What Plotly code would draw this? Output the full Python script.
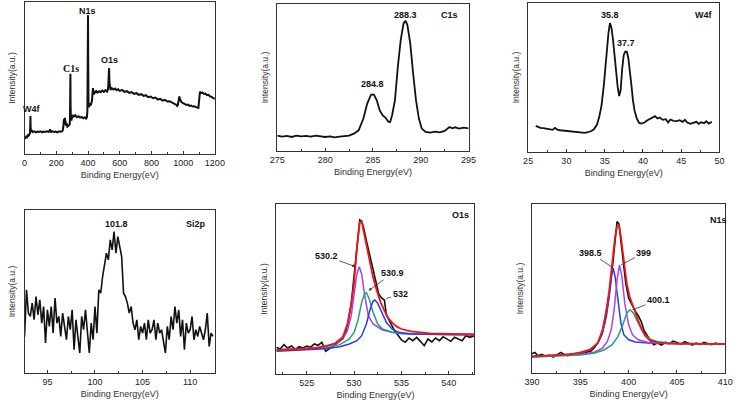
import plotly.graph_objects as go

# ---------------- data ----------------
# Survey
survey_x = [0,5,10,15,20,25,30,34,36,37,38,40,45,50,60,70,80,90,100,110,120,130,140,150,155,160,163,167,175,185,195,205,215,225,235,240,244,247,250,252,254,256,258,261,265,270,275,280,284,286,288,289,290,292,295,300,305,310,320,330,340,350,360,370,380,388,393,396,398,400,401,403,406,410,415,420,425,428,431,434,437,440,445,450,460,470,480,490,500,510,520,525,528,531,533,535,538,542,550,560,570,580,590,600,615,630,645,660,675,690,705,720,735,750,765,780,795,810,825,840,855,870,885,900,915,930,945,955,962,966,970,973,976,980,985,990,1000,1010,1020,1030,1040,1050,1060,1070,1080,1090,1096,1099,1102,1106,1110,1120,1130,1140,1150,1160,1170,1180,1190,1200]
survey_y = [45,48,52,50,56,55,60,62,90,114,80,68,70,66,68,65,67,66,68,65,67,66,68,66,67,74,70,66,68,66,67,65,67,66,67,70,80,100,105,88,108,92,100,85,92,82,84,86,88,100,200,240,150,108,100,112,115,112,116,110,113,109,111,107,110,106,110,130,220,415,300,150,140,152,145,150,160,180,197,185,178,188,182,190,184,188,185,190,186,191,187,192,205,240,257,215,196,192,197,193,196,191,194,189,192,186,188,183,185,180,182,177,179,174,176,170,172,167,169,163,165,160,162,157,158,153,150,148,144,146,158,168,172,164,158,155,152,150,147,148,144,145,142,143,140,139,138,160,180,187,182,184,180,181,176,177,172,171,167,165]
survey_labels = ["W4f", "C1s", "N1s", "O1s"]
survey_label_x = [45, 293, 398, 537]
survey_label_y = [136, 255, 427, 282]

# C1s
c1s_x = [275,275.5,276,276.5,277,277.5,278,278.5,279,279.5,280,280.5,281,281.5,282,282.5,283,283.5,284,284.4,284.8,285.1,285.4,285.7,286.0,286.3,286.6,286.8,287.0,287.3,287.6,287.9,288.2,288.4,288.6,288.9,289.2,289.5,289.8,290.1,290.5,291,291.5,292,292.5,293,293.3,293.6,294,294.5,295]
c1s_y = [46,43,45,42,46,44,45,43,46,44,42,44,41,43,44,46,52,62,97,142,169,169,152,122,107,100,88,87,107,152,252,332,382,390,377,322,232,152,97,67,57,55,58,56,60,72,68,71,67,70,68]

# W4f
w4f_x = [26,26.3,26.6,27,27.4,27.8,28.2,28.5,28.8,29.2,29.6,30,30.4,30.8,31.2,31.6,32,32.4,32.8,33.2,33.6,34,34.3,34.6,34.9,35.2,35.5,35.7,35.9,36.1,36.3,36.5,36.7,36.9,37.1,37.3,37.5,37.7,37.9,38.1,38.3,38.5,38.7,38.9,39.2,39.5,39.8,40.2,40.6,41,41.3,41.6,41.9,42.2,42.6,43,43.3,43.6,44,44.4,44.8,45.2,45.5,45.8,46.2,46.6,47,47.3,47.6,48,48.3,48.6,49]
w4f_y = [78,74,72,71,69,68,66,72,67,65,64,63,61,60,58,57,58,57,59,62,68,82,105,140,200,280,355,385,370,335,285,235,195,167,185,250,290,300,300,280,245,200,155,125,100,87,85,88,95,100,104,107,100,103,96,98,88,97,93,92,95,90,96,88,84,86,90,84,89,86,92,85,90]

# Si2p
si_x = [92.6,92.8,93.0,93.2,93.4,93.6,93.8,94.0,94.2,94.4,94.6,94.8,95.0,95.2,95.4,95.6,95.8,96.0,96.2,96.4,96.6,96.8,97.0,97.2,97.4,97.6,97.8,98.0,98.2,98.4,98.6,98.8,99.0,99.2,99.4,99.6,99.8,100.0,100.2,100.4,100.6,100.8,101.0,101.2,101.4,101.6,101.8,102.0,102.2,102.4,102.6,102.8,103.0,103.2,103.4,103.6,103.8,104.0,104.2,104.4,104.6,104.8,105.0,105.2,105.4,105.6,105.8,106.0,106.2,106.4,106.6,106.8,107.0,107.2,107.4,107.6,107.8,108.0,108.2,108.4,108.6,108.8,109.0,109.2,109.4,109.6,109.8,110.0,110.2,110.4,110.6,110.8,111.0,111.2,111.4,111.6,111.8,112.0,112.2,112.4]
si_y = [110,250,180,170,210,160,230,175,220,150,200,90,190,140,200,120,225,150,170,110,180,140,100,170,130,190,70,160,100,60,170,130,190,110,60,150,100,200,120,250,240,290,320,360,340,400,370,425,360,410,380,350,240,230,210,180,200,150,130,160,100,140,120,150,100,160,120,130,160,100,150,120,130,90,60,140,100,170,130,200,150,190,110,160,70,150,120,130,170,100,130,110,140,120,100,130,180,80,120,110]

# O1s
o1s_x = [521.8,522.2,522.6,523,523.4,523.8,524.2,524.6,525,525.4,525.8,526.2,526.6,527,527.3,527.7,528,528.4,528.8,529.1,529.4,529.7,530,530.2,530.4,530.6,530.8,531,531.3,531.6,532,532.3,532.6,532.9,533.2,533.4,533.7,534,534.3,534.6,535,535.4,535.8,536.2,536.6,537,537.4,537.8,538.2,538.6,539,539.4,539.8,540.2,540.6,541,541.4,541.8,542.2,542.7]
o1s_y = [80,75,88,78,84,74,82,78,84,80,90,86,95,68,74,82,88,95,105,125,160,210,300,350,420,462,458,440,400,362,312,270,240,228,222,178,160,142,128,118,102,95,108,100,110,98,85,105,96,108,100,112,104,98,110,105,100,115,110,115]
o1s_fit_x = [521.8,524,526,527,528,528.8,529.3,529.7,530,530.3,530.6,530.8,531,531.3,531.6,532,532.4,532.8,533.2,533.6,534,534.5,535,536,537,538,540,542.7]
o1s_fit_y = [72,74,78,84,92,110,150,210,272,380,455,458,430,385,342,290,250,215,190,168,155,142,135,128,125,122,120,118]
o1s_a_x = [521.8,525,527,528,528.8,529.3,529.7,530,530.3,530.55,530.8,531.1,531.5,532,532.5,533,534,535,537,540,542.7]
o1s_a_y = [72,76,82,90,105,130,175,240,300,322,300,240,175,150,140,132,125,122,120,120,120]
o1s_b_x = [521.8,525,527,528.5,529.5,530,530.4,530.8,531.1,531.3,531.6,532,532.5,533,534,535,537,540,542.7]
o1s_b_y = [70,74,78,88,105,125,160,215,240,244,225,185,150,135,125,121,119,118,118]
o1s_c_x = [521.8,525,527,528.5,529.5,530.3,530.8,531.3,531.7,532,532.2,532.5,532.9,533.4,534,534.7,536,538,542.7]
o1s_c_y = [68,72,76,82,90,100,115,150,195,218,222,212,185,155,135,125,120,119,118]

# N1s
n1s_x = [390,390.3,390.6,391,391.4,391.8,392.2,392.6,393,393.3,393.7,394.1,394.5,394.9,395.3,395.7,396.1,396.5,396.9,397.2,397.5,397.8,398.1,398.4,398.6,398.8,399,399.2,399.5,399.7,400.0,400.2,400.4,400.7,401,401.3,401.6,402,402.3,402.6,403,403.4,403.8,404.2,404.6,405,405.4,405.8,406.2,406.6,407,407.4,407.8,408.2,408.6,409,409.4,409.8,410]
n1s_y = [58,62,52,56,50,53,48,54,62,56,52,58,55,60,58,63,66,78,95,115,150,200,260,340,400,455,448,400,320,270,225,212,200,185,172,155,128,108,96,85,90,84,92,88,96,92,86,94,88,84,90,85,92,88,85,90,86,88,87]
n1s_fit_x = [390,392,394,395,396,396.8,397.3,397.7,398,398.3,398.6,398.8,399,399.2,399.5,399.8,400.1,400.5,400.9,401.3,401.7,402.2,403,404,406,410]
n1s_fit_y = [50,52,56,62,70,90,130,190,250,330,410,440,445,410,330,270,230,195,165,135,112,98,92,89,88,87]
n1s_a_x = [390,393,395,396,396.8,397.3,397.7,398,398.2,398.4,398.6,398.9,399.2,399.5,400,400.7,402,405,410]
n1s_a_y = [50,54,60,70,90,120,170,230,290,315,290,220,150,115,100,93,90,88,87]
n1s_b_x = [390,393,395,396.5,397.3,397.8,398.2,398.5,398.8,399.05,399.3,399.6,400,400.4,401,402,405,410]
n1s_b_y = [48,52,56,63,75,95,130,190,280,325,290,210,145,115,100,92,89,87]
n1s_c_x = [390,393,395,396.5,397.5,398.3,398.9,399.4,399.8,400.15,400.5,401,401.5,402.2,403,405,410]
n1s_c_y = [48,51,54,60,70,85,110,145,180,190,180,150,122,102,94,89,87]

# ---------------- figure ----------------
W, H = 745, 409
FONT = "Arial, Liberation Sans, sans-serif"
SERIF = "Times New Roman, Liberation Serif, serif"
BLACK = "#111111"
RED = "#f01414"
PURPLE = "#a444f0"
GREEN = "#1fa07c"
BLUE = "#2a3ce6"

# panel boxes in pixels: (left, right, top, bottom)
boxes = [(17, 212, 2, 154), (276, 472, 4, 151), (533, 729, 3, 152),
         (17, 212, 210, 373), (275, 478, 204, 374), (537, 735, 204, 373)]
xranges = [[0, 1200], [275, 295], [25, 50], [92.6, 112.6], [521.8, 542.7], [390, 410]]
yranges = [[0, 455], [0, 440], [0, 445], [0, 490], [0, 510], [0, 508]]
dticks = [200, 5, 5, 5, 5, 5]
tick0s = [0, 275, 25, 95, 525, 390]

fig = go.Figure()

def add_line(i, x, y, color, width=1.6):
    sfx = "" if i == 1 else str(i)
    fig.add_trace(go.Scatter(x=x, y=y, mode="lines", line=dict(color=color, width=width),
                             xaxis="x" + sfx, yaxis="y" + sfx, showlegend=False, hoverinfo="skip"))

add_line(1, survey_x, survey_y, BLACK, 2.0)
add_line(2, c1s_x, c1s_y, BLACK, 1.8)
add_line(3, w4f_x, w4f_y, BLACK, 1.8)
add_line(4, si_x, si_y, BLACK, 1.6)
add_line(5, o1s_x, o1s_y, BLACK, 1.6)
add_line(5, o1s_a_x, o1s_a_y, PURPLE, 1.5)
add_line(5, o1s_b_x, o1s_b_y, GREEN, 1.5)
add_line(5, o1s_c_x, o1s_c_y, BLUE, 1.5)
add_line(5, o1s_fit_x, o1s_fit_y, RED, 1.8)
add_line(6, n1s_x, n1s_y, BLACK, 1.6)
add_line(6, n1s_a_x, n1s_a_y, BLUE, 1.5)
add_line(6, n1s_b_x, n1s_b_y, PURPLE, 1.5)
add_line(6, n1s_c_x, n1s_c_y, GREEN, 1.5)
add_line(6, n1s_fit_x, n1s_fit_y, RED, 1.8)

layout = dict(width=W, height=H, margin=dict(l=0, r=0, t=0, b=0),
              paper_bgcolor="white", plot_bgcolor="white", showlegend=False,
              font=dict(family=FONT, color="#222"))
for k in range(6):
    i = k + 1
    sfx = "" if i == 1 else str(i)
    l, r, t, b = boxes[k]
    layout["xaxis" + sfx] = dict(
        domain=[l / W, r / W], range=xranges[k], anchor="y" + sfx,
        showline=True, linecolor="#333", linewidth=1, mirror=True,
        ticks="inside", ticklen=3, tickcolor="#333", tick0=tick0s[k], dtick=dticks[k],
        minor=dict(ticks="inside", ticklen=2, tickcolor="#333", dtick=dticks[k] / 2),
        showgrid=False, zeroline=False, tickfont=dict(size=9, family=FONT, color="#222"),
        ticklabeloverflow="allow",
        title=dict(text="Binding Energy(eV)", font=dict(size=9, family=FONT, color="#333"), standoff=4),
        fixedrange=True)
    layout["yaxis" + sfx] = dict(
        domain=[1 - b / H, 1 - t / H], range=yranges[k], anchor="x" + sfx,
        showline=True, linecolor="#333", linewidth=1, mirror=True,
        ticks="", showticklabels=False, showgrid=False, zeroline=False,
        title=dict(text="Intensity(a.u.)", font=dict(size=8.5, family=FONT, color="#333"), standoff=6),
        fixedrange=True)
fig.update_layout(**layout)

def label(i, x, y, text, size=9, family=FONT):
    sfx = "" if i == 1 else str(i)
    fig.add_annotation(x=x, y=y, xref="x" + sfx, yref="y" + sfx, text="<b>%s</b>" % text,
                       showarrow=False, font=dict(size=size, family=family, color="#111"))

for t, lx, ly in zip(survey_labels, survey_label_x, survey_label_y):
    label(1, lx, ly, t, family=(SERIF if t == "C1s" else FONT), size=(10 if t == "C1s" else 9))
label(2, 288.4, 407, "288.3")
label(2, 284.93, 200, "284.8")
label(2, 293.0, 407, "C1s")
label(3, 35.7, 410, "35.8")
label(3, 37.76, 325, "37.7")
label(3, 47.96, 410, "W4f")
label(4, 102.3, 448, "101.8")
label(4, 110.6, 448, "Si2p")
label(5, 541.2, 477, "O1s")
label(6, 409.3, 460, "N1s")

def arrow(i, text, tx, ty, hx, hy, head):
    sfx = "" if i == 1 else str(i)
    fig.add_annotation(x=hx, y=hy, xref="x" + sfx, yref="y" + sfx,
                       ax=tx, ay=ty, axref="x" + sfx, ayref="y" + sfx,
                       text="<b>%s</b>" % text, showarrow=True, arrowhead=head, arrowsize=0.8,
                       arrowwidth=0.8, arrowcolor="#333",
                       font=dict(size=9, family=FONT, color="#111"))

arrow(5, "530.2", 527.06, 354, 530.15, 322, 2)
arrow(5, "530.9", 534.06, 302, 531.52, 250, 2)
arrow(5, "532", 534.85, 240, 533.38, 226, 0)
arrow(6, "398.5", 396.04, 362, 398.29, 318, 0)
arrow(6, "399", 401.58, 362, 399.23, 325, 0)
arrow(6, "400.1", 403.1, 220, 400.4, 190, 0)

# remove the default page margin so the 745x409 figure fills the window exactly
fig.write_html("out.html", config={"displayModeBar": False},
               post_script="document.body.style.margin='0';document.body.style.overflow='hidden';")
